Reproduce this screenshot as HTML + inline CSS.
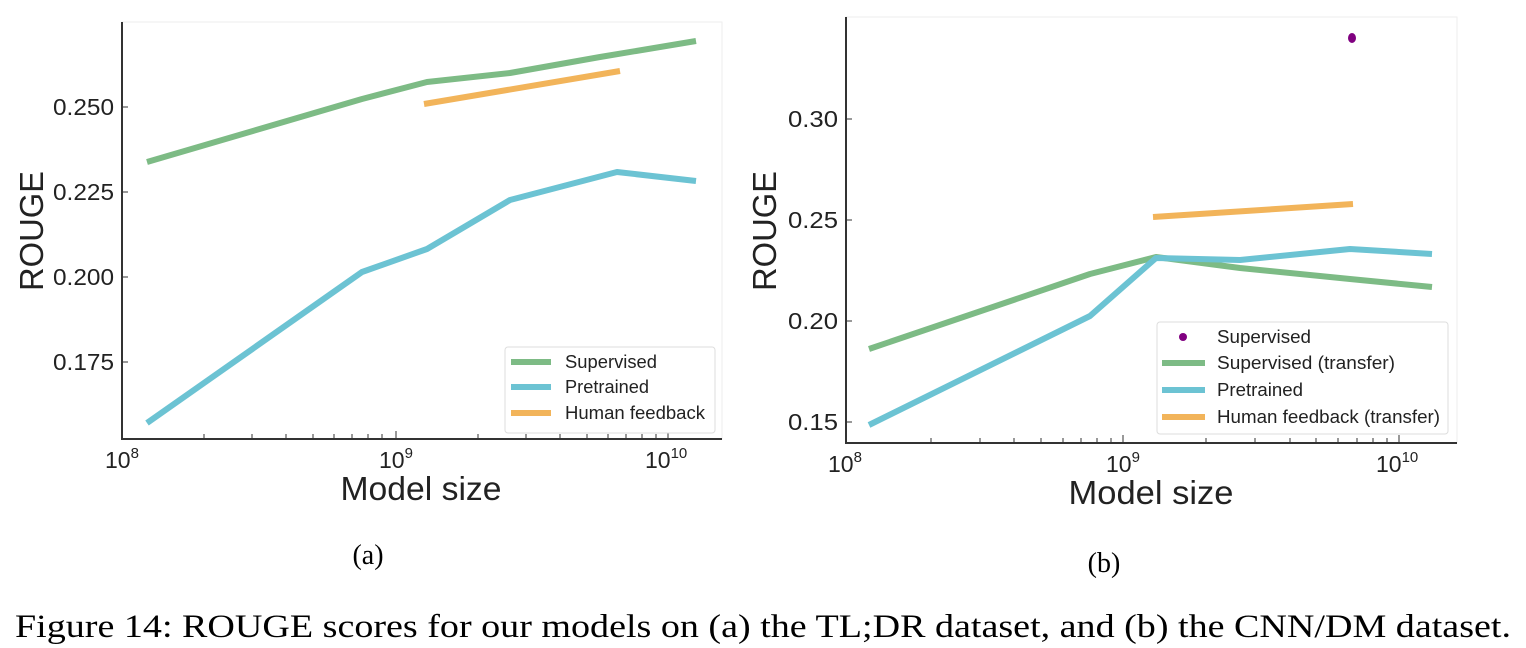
<!DOCTYPE html>
<html><head><style>
body{margin:0;background:#fff;width:1526px;height:648px;overflow:hidden}
svg{display:block}
.t{font-family:"Liberation Sans",sans-serif;fill:#222}
.c{font-family:"Liberation Serif",serif;fill:#000}
</style></head><body>
<svg width="1526" height="648" viewBox="0 0 1526 648" xmlns="http://www.w3.org/2000/svg">
<!-- LEFT CHART -->
<rect x="122" y="22" width="600" height="417" fill="none" stroke="#eee" stroke-width="1"/>
<line x1="122" y1="22" x2="122" y2="440" stroke="#333" stroke-width="2"/>
<line x1="121" y1="439" x2="722" y2="439" stroke="#333" stroke-width="2"/>
<g stroke="#333" stroke-width="1">
<line x1="204" y1="439" x2="204" y2="434"/><line x1="252" y1="439" x2="252" y2="434"/><line x1="286" y1="439" x2="286" y2="434"/><line x1="313" y1="439" x2="313" y2="434"/><line x1="334" y1="439" x2="334" y2="434"/><line x1="352" y1="439" x2="352" y2="434"/><line x1="368" y1="439" x2="368" y2="434"/><line x1="382" y1="439" x2="382" y2="434"/>
<line x1="396" y1="439" x2="396" y2="431"/>
<line x1="478" y1="439" x2="478" y2="434"/><line x1="526" y1="439" x2="526" y2="434"/><line x1="560" y1="439" x2="560" y2="434"/><line x1="587" y1="439" x2="587" y2="434"/><line x1="608" y1="439" x2="608" y2="434"/><line x1="626" y1="439" x2="626" y2="434"/><line x1="642" y1="439" x2="642" y2="434"/><line x1="656" y1="439" x2="656" y2="434"/>
<line x1="668" y1="439" x2="668" y2="431"/>
<line x1="122" y1="107" x2="128" y2="107"/><line x1="122" y1="192" x2="128" y2="192"/><line x1="122" y1="277" x2="128" y2="277"/><line x1="122" y1="362" x2="128" y2="362"/>
</g>
<g class="t" font-size="23" text-anchor="end">
<text x="114" y="115" textLength="61" lengthAdjust="spacingAndGlyphs">0.250</text><text x="114" y="200" textLength="61" lengthAdjust="spacingAndGlyphs">0.225</text><text x="114" y="285" textLength="61" lengthAdjust="spacingAndGlyphs">0.200</text><text x="114" y="370" textLength="61" lengthAdjust="spacingAndGlyphs">0.175</text>
</g>
<g class="t" font-size="23">
<text x="105" y="468">10<tspan font-size="15" dy="-10">8</tspan></text>
<text x="379" y="468">10<tspan font-size="15" dy="-10">9</tspan></text>
<text x="645" y="468">10<tspan font-size="15" dy="-10">10</tspan></text>
</g>
<text class="t" font-size="33" x="421" y="500" text-anchor="middle" textLength="161" lengthAdjust="spacingAndGlyphs">Model size</text>
<text class="t" font-size="33" transform="translate(43,231) rotate(-90)" text-anchor="middle" textLength="120" lengthAdjust="spacingAndGlyphs">ROUGE</text>
<g fill="none" stroke-width="6" stroke-linejoin="round">
<polyline stroke="#7dbb85" points="147,162 362,99 427,82 510,73 600,57 696,41"/>
<polyline stroke="#6cc3d3" points="147,423 362,272 427,249 510,200 617,172 696,181"/>
<polyline stroke="#f2b45a" points="424,104 620,71"/>
</g>
<rect x="505" y="347" width="210" height="86" rx="3" fill="#fff" stroke="#ddd"/>
<g stroke-width="6"><line x1="511" y1="362" x2="551" y2="362" stroke="#7dbb85"/><line x1="511" y1="387" x2="551" y2="387" stroke="#6cc3d3"/><line x1="511" y1="413" x2="551" y2="413" stroke="#f2b45a"/></g>
<g class="t" font-size="18"><text x="565" y="368" textLength="92" lengthAdjust="spacingAndGlyphs">Supervised</text><text x="565" y="393" textLength="84" lengthAdjust="spacingAndGlyphs">Pretrained</text><text x="565" y="419" textLength="140" lengthAdjust="spacingAndGlyphs">Human feedback</text></g>

<!-- RIGHT CHART -->
<rect x="846" y="17" width="611" height="426" fill="none" stroke="#eee" stroke-width="1"/>
<line x1="846" y1="17" x2="846" y2="444" stroke="#333" stroke-width="2"/>
<line x1="845" y1="443" x2="1457" y2="443" stroke="#333" stroke-width="2"/>
<g stroke="#333" stroke-width="1">
<line x1="931" y1="443" x2="931" y2="438"/><line x1="980" y1="443" x2="980" y2="438"/><line x1="1014" y1="443" x2="1014" y2="438"/><line x1="1041" y1="443" x2="1041" y2="438"/><line x1="1063" y1="443" x2="1063" y2="438"/><line x1="1081" y1="443" x2="1081" y2="438"/><line x1="1097" y1="443" x2="1097" y2="438"/><line x1="1111" y1="443" x2="1111" y2="438"/>
<line x1="1123" y1="443" x2="1123" y2="435"/>
<line x1="1206" y1="443" x2="1206" y2="438"/><line x1="1255" y1="443" x2="1255" y2="438"/><line x1="1290" y1="443" x2="1290" y2="438"/><line x1="1316" y1="443" x2="1316" y2="438"/><line x1="1338" y1="443" x2="1338" y2="438"/><line x1="1357" y1="443" x2="1357" y2="438"/><line x1="1373" y1="443" x2="1373" y2="438"/><line x1="1387" y1="443" x2="1387" y2="438"/>
<line x1="1399" y1="443" x2="1399" y2="435"/>
<line x1="846" y1="119" x2="852" y2="119"/><line x1="846" y1="220" x2="852" y2="220"/><line x1="846" y1="321" x2="852" y2="321"/><line x1="846" y1="422" x2="852" y2="422"/>
</g>
<g class="t" font-size="23" text-anchor="end">
<text x="838" y="127" textLength="50" lengthAdjust="spacingAndGlyphs">0.30</text><text x="838" y="228" textLength="50" lengthAdjust="spacingAndGlyphs">0.25</text><text x="838" y="329" textLength="50" lengthAdjust="spacingAndGlyphs">0.20</text><text x="838" y="430" textLength="50" lengthAdjust="spacingAndGlyphs">0.15</text>
</g>
<g class="t" font-size="23">
<text x="828" y="472">10<tspan font-size="15" dy="-10">8</tspan></text>
<text x="1106" y="472">10<tspan font-size="15" dy="-10">9</tspan></text>
<text x="1376" y="472">10<tspan font-size="15" dy="-10">10</tspan></text>
</g>
<text class="t" font-size="33" x="1151" y="504" text-anchor="middle" textLength="165" lengthAdjust="spacingAndGlyphs">Model size</text>
<text class="t" font-size="33" transform="translate(776,231) rotate(-90)" text-anchor="middle" textLength="120" lengthAdjust="spacingAndGlyphs">ROUGE</text>
<g fill="none" stroke-width="6" stroke-linejoin="round">
<polyline stroke="#7dbb85" points="869,349 1090,274 1156,257 1240,268 1350,279 1432,287"/>
<polyline stroke="#6cc3d3" points="869,425 1090,316 1156,258 1240,260 1350,249 1432,254"/>
<polyline stroke="#f2b45a" points="1153,217 1353,204"/>
</g>
<ellipse cx="1352" cy="38" rx="4" ry="5" fill="#800080"/>
<rect x="1157" y="322" width="291" height="112" rx="3" fill="#fff" stroke="#ddd"/>
<circle cx="1183" cy="337" r="4" fill="#800080"/>
<g stroke-width="6"><line x1="1162" y1="363" x2="1205" y2="363" stroke="#7dbb85"/><line x1="1162" y1="390" x2="1205" y2="390" stroke="#6cc3d3"/><line x1="1162" y1="417" x2="1205" y2="417" stroke="#f2b45a"/></g>
<g class="t" font-size="18"><text x="1217" y="343" textLength="94" lengthAdjust="spacingAndGlyphs">Supervised</text><text x="1217" y="369" textLength="178" lengthAdjust="spacingAndGlyphs">Supervised (transfer)</text><text x="1217" y="396" textLength="86" lengthAdjust="spacingAndGlyphs">Pretrained</text><text x="1217" y="423" textLength="223" lengthAdjust="spacingAndGlyphs">Human feedback (transfer)</text></g>

<text class="c" font-size="28" x="368" y="564" text-anchor="middle">(a)</text>
<text class="c" font-size="28" x="1104" y="572" text-anchor="middle">(b)</text>
<text class="c" font-size="33" x="763" y="637" text-anchor="middle" textLength="1496" lengthAdjust="spacingAndGlyphs">Figure 14: ROUGE scores for our models on (a) the TL;DR dataset, and (b) the CNN/DM dataset.</text>
</svg>
</body></html>
